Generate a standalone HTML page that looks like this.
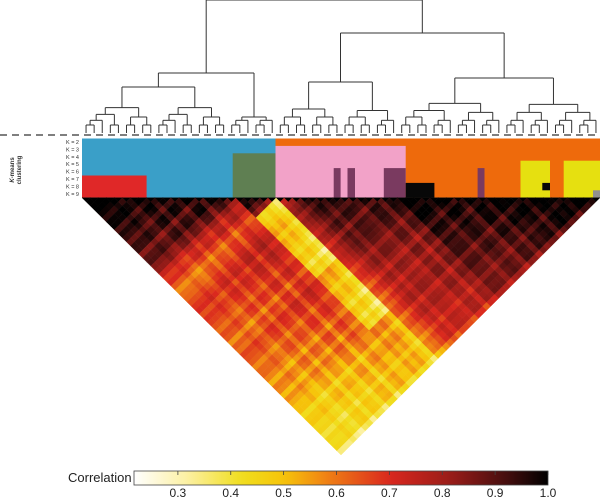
<!DOCTYPE html>
<html><head><meta charset="utf-8">
<style>
html,body{margin:0;padding:0;background:#fff;}
svg{display:block;font-family:"Liberation Sans",sans-serif;}
</style></head>
<body>
<svg id="chart" width="600" height="500" viewBox="0 0 600 500">
  <g id="dendro"></g>
  <line x1="0" y1="135" x2="600" y2="135" stroke="#555" stroke-width="1.5" stroke-dasharray="7,5"/>
  <g id="band"></g>
  <text transform="translate(14,170) rotate(-90)" font-size="6" text-anchor="middle" font-weight="bold" fill="#333"><tspan x="0" dy="0" font-style="italic">K</tspan>-means<tspan x="0" dy="7">clustering</tspan></text>
  <g id="klabels"></g>
  <g id="heat"></g>
  <g id="cbar"></g>
  <text x="68" y="482" font-size="13" fill="#222">Correlation</text>
</svg>
<script>
// ---- data ----
const nLeaves = 64;
// leaf counts per macro cluster (A red/blue, B green, C pink, D black/orange, E yellow)
const clusterSizes = [19,5,15,13,12];
// correlation adjustment between macro clusters
const blockAdj = [
  [0.00,-0.15,-0.12,-0.08,-0.12],
  [-0.15,0.00,-0.40,-0.30,-0.14],
  [-0.12,-0.40,-0.05,-0.06,-0.03],
  [-0.08,-0.30,-0.06,0.00,0.00],
  [-0.12,-0.14,-0.03,0.00,0.00]];
const leafOffset = [0.04,0.03,0.02,0.04,0.0,-0.03,0.02,0.03,-0.04,0.02,0.0,-0.05,0.02,0.02,-0.07,0.0,0.02,-0.04,-0.05,0.02,-0.03,0.0,-0.06,-0.12,
  -0.1,-0.08,-0.04,0.0,0.03,-0.02,0.03,0.02,0.0,-0.03,0.03,0.02,-0.05,0.03,0.01,
  0.04,0.03,0.02,-0.03,0.02,0.03,0.0,-0.05,0.03,0.02,-0.04,0.03,0.0,
  0.02,0.03,-0.04,0.02,0.04,0.0,0.02,-0.03,0.03,0.02,0.04,-0.05];
const kRowLabels = ["K = 2","K = 3","K = 4","K = 5","K = 6","K = 7","K = 8","K = 9"];
const bandRects = [
  [82,275.5,0,7,"#3a9fc8"],[275.5,600,0,7,"#ee6a0c"],[275.5,405.7,1,7,"#f2a2c8"],
  [232.7,275.5,2,7,"#5f7f52"],[82,146.6,5,7,"#e02828"],
  [333.7,340.6,4,7,"#7a3a60"],[347.5,355,4,7,"#7a3a60"],[383.8,405.7,4,7,"#7a3a60"],[477.6,484.5,4,7,"#7a3a60"],
  [405.7,434.4,6,7,"#080808"],[520.5,550,3,7,"#e6e010"],[563.7,600,3,7,"#e6e010"],
  [542.3,550,6,6,"#080808"],[593,600,7,7,"#909090"]];
const cbTicks = [0.3,0.4,0.5,0.6,0.7,0.8,0.9,1.0];
const cbMin = 0.217, cbMax = 1.0;

const leafCluster = [];
clusterSizes.forEach((s,c)=>{ for(let k=0;k<s;k++) leafCluster.push(c); });

const NS = "http://www.w3.org/2000/svg";
function mk(tag, attrs, parent){ const e=document.createElementNS(NS,tag); for(const k in attrs) e.setAttribute(k,attrs[k]); parent.appendChild(e); return e; }

const stops=[[0.217,[255,255,255]],[0.32,[252,240,160]],[0.42,[240,222,30]],[0.5,[246,196,10]],[0.58,[240,130,20]],[0.7,[218,40,30]],[0.82,[150,28,24]],[0.92,[70,14,14]],[1.0,[0,0,0]]];
function cmap(v){ v=Math.max(cbMin,Math.min(1,v));
  for(let i=1;i<stops.length;i++){ if(v<=stops[i][0]){ const a=stops[i-1],b=stops[i],t=(v-a[0])/(b[0]-a[0]);
    return "rgb("+a[1].map((c,k)=>Math.round(c+(b[1][k]-c)*t)).join(",")+")"; } }
  return "rgb(0,0,0)"; }

const bx0=82,bx1=600,by0=138.5,rowH=7.4;
const band=document.getElementById("band");
bandRects.forEach((r)=>{ const e=mk("rect",{x:r[0],y:by0+r[2]*rowH,width:r[1]-r[0],height:(r[3]-r[2]+1)*rowH,fill:r[4]},band);
  
   });
const kl=document.getElementById("klabels");
kRowLabels.forEach((t,i)=>{ const e=mk("text",{x:79,y:by0+i*rowH+5.5,"font-size":5.5,"text-anchor":"end",fill:"#333"},kl); e.textContent=t;
  
   });

const heat=document.getElementById("heat");
const cw=(bx1-bx0)/nLeaves, heatTop=197.7, hh=(455-heatTop)/nLeaves;
function corr(i,j){
  if(i===j) return 1;
  const v=0.98-0.008*Math.abs(i-j)+blockAdj[leafCluster[i]][leafCluster[j]]+(leafOffset[i]||0)+(leafOffset[j]||0);
  return Math.min(1,v); }
for(let i=0;i<nLeaves;i++) for(let j=i;j<nLeaves;j++){
  const cx=bx0+(i+j+1)*cw/2, cy=heatTop+(j-i)*hh;
  const col=cmap(corr(i,j));
  const pts = (i===j)
    ? `${cx-cw/2},${cy} ${cx+cw/2},${cy} ${cx},${cy+hh}`
    : `${cx},${cy-hh} ${cx+cw/2},${cy} ${cx},${cy+hh} ${cx-cw/2},${cy}`;
  const p=mk("polygon",{points:pts,fill:col,stroke:col,"stroke-width":0.4},heat);
  
  
}

const dg=document.getElementById("dendro");
function lx(i){ return bx0+(i+0.5)*cw; }
function seg(x1,y1,x2,y2){ const l=mk("line",{x1:x1,y1:y1,x2:x2,y2:y2,stroke:"#333","stroke-width":1},dg);
  
   }
const fixedH={"0-63":0,"0-23":73,"24-63":33,"0-17":87,"18-23":117,"24-38":82,"39-63":78};
const fixedSplit={"0-63":23,"0-23":17,"24-63":38};
function build(a,b){
  if(a===b) return {x:lx(a),y:133};
  const key=a+"-"+b;
  const m = (key in fixedSplit) ? fixedSplit[key] : Math.floor((a+b)/2);
  const L=build(a,m), R=build(m+1,b);
  const s=b-a+1; const y=(key in fixedH) ? fixedH[key] : 133-8*Math.log2(s);
  seg(L.x,L.y,L.x,y); seg(R.x,R.y,R.x,y); seg(L.x,y,R.x,y);
  return {x:(L.x+R.x)/2,y:y};
}
build(0,nLeaves-1);

const cb=document.getElementById("cbar");
const cx0=134,cx1=548,cy0=471,cyH=14;
const defs=mk("defs",{},cb); const gr=mk("linearGradient",{id:"cg",x1:0,x2:1,y1:0,y2:0},defs);
for(let k=0;k<=40;k++){ const v=cbMin+(cbMax-cbMin)*k/40; mk("stop",{offset:(k/40),"stop-color":cmap(v)},gr); }
const cr=mk("rect",{x:cx0,y:cy0,width:cx1-cx0,height:cyH,fill:"url(#cg)",stroke:"#444","stroke-width":0.8},cb);


function cbX(v){ return cx0+(v-cbMin)/(cbMax-cbMin)*(cx1-cx0); }
cbTicks.forEach(v=>{ const x=cbX(v);
  const t=mk("line",{x1:x,y1:cy0,x2:x,y2:cy0+4,stroke:"#444","stroke-width":0.8},cb);
  
  
  const tx=mk("text",{x:x,y:497,"font-size":12,"text-anchor":"middle",fill:"#222"},cb); tx.textContent=v.toFixed(1);
  
   });
</script>
</body></html>
